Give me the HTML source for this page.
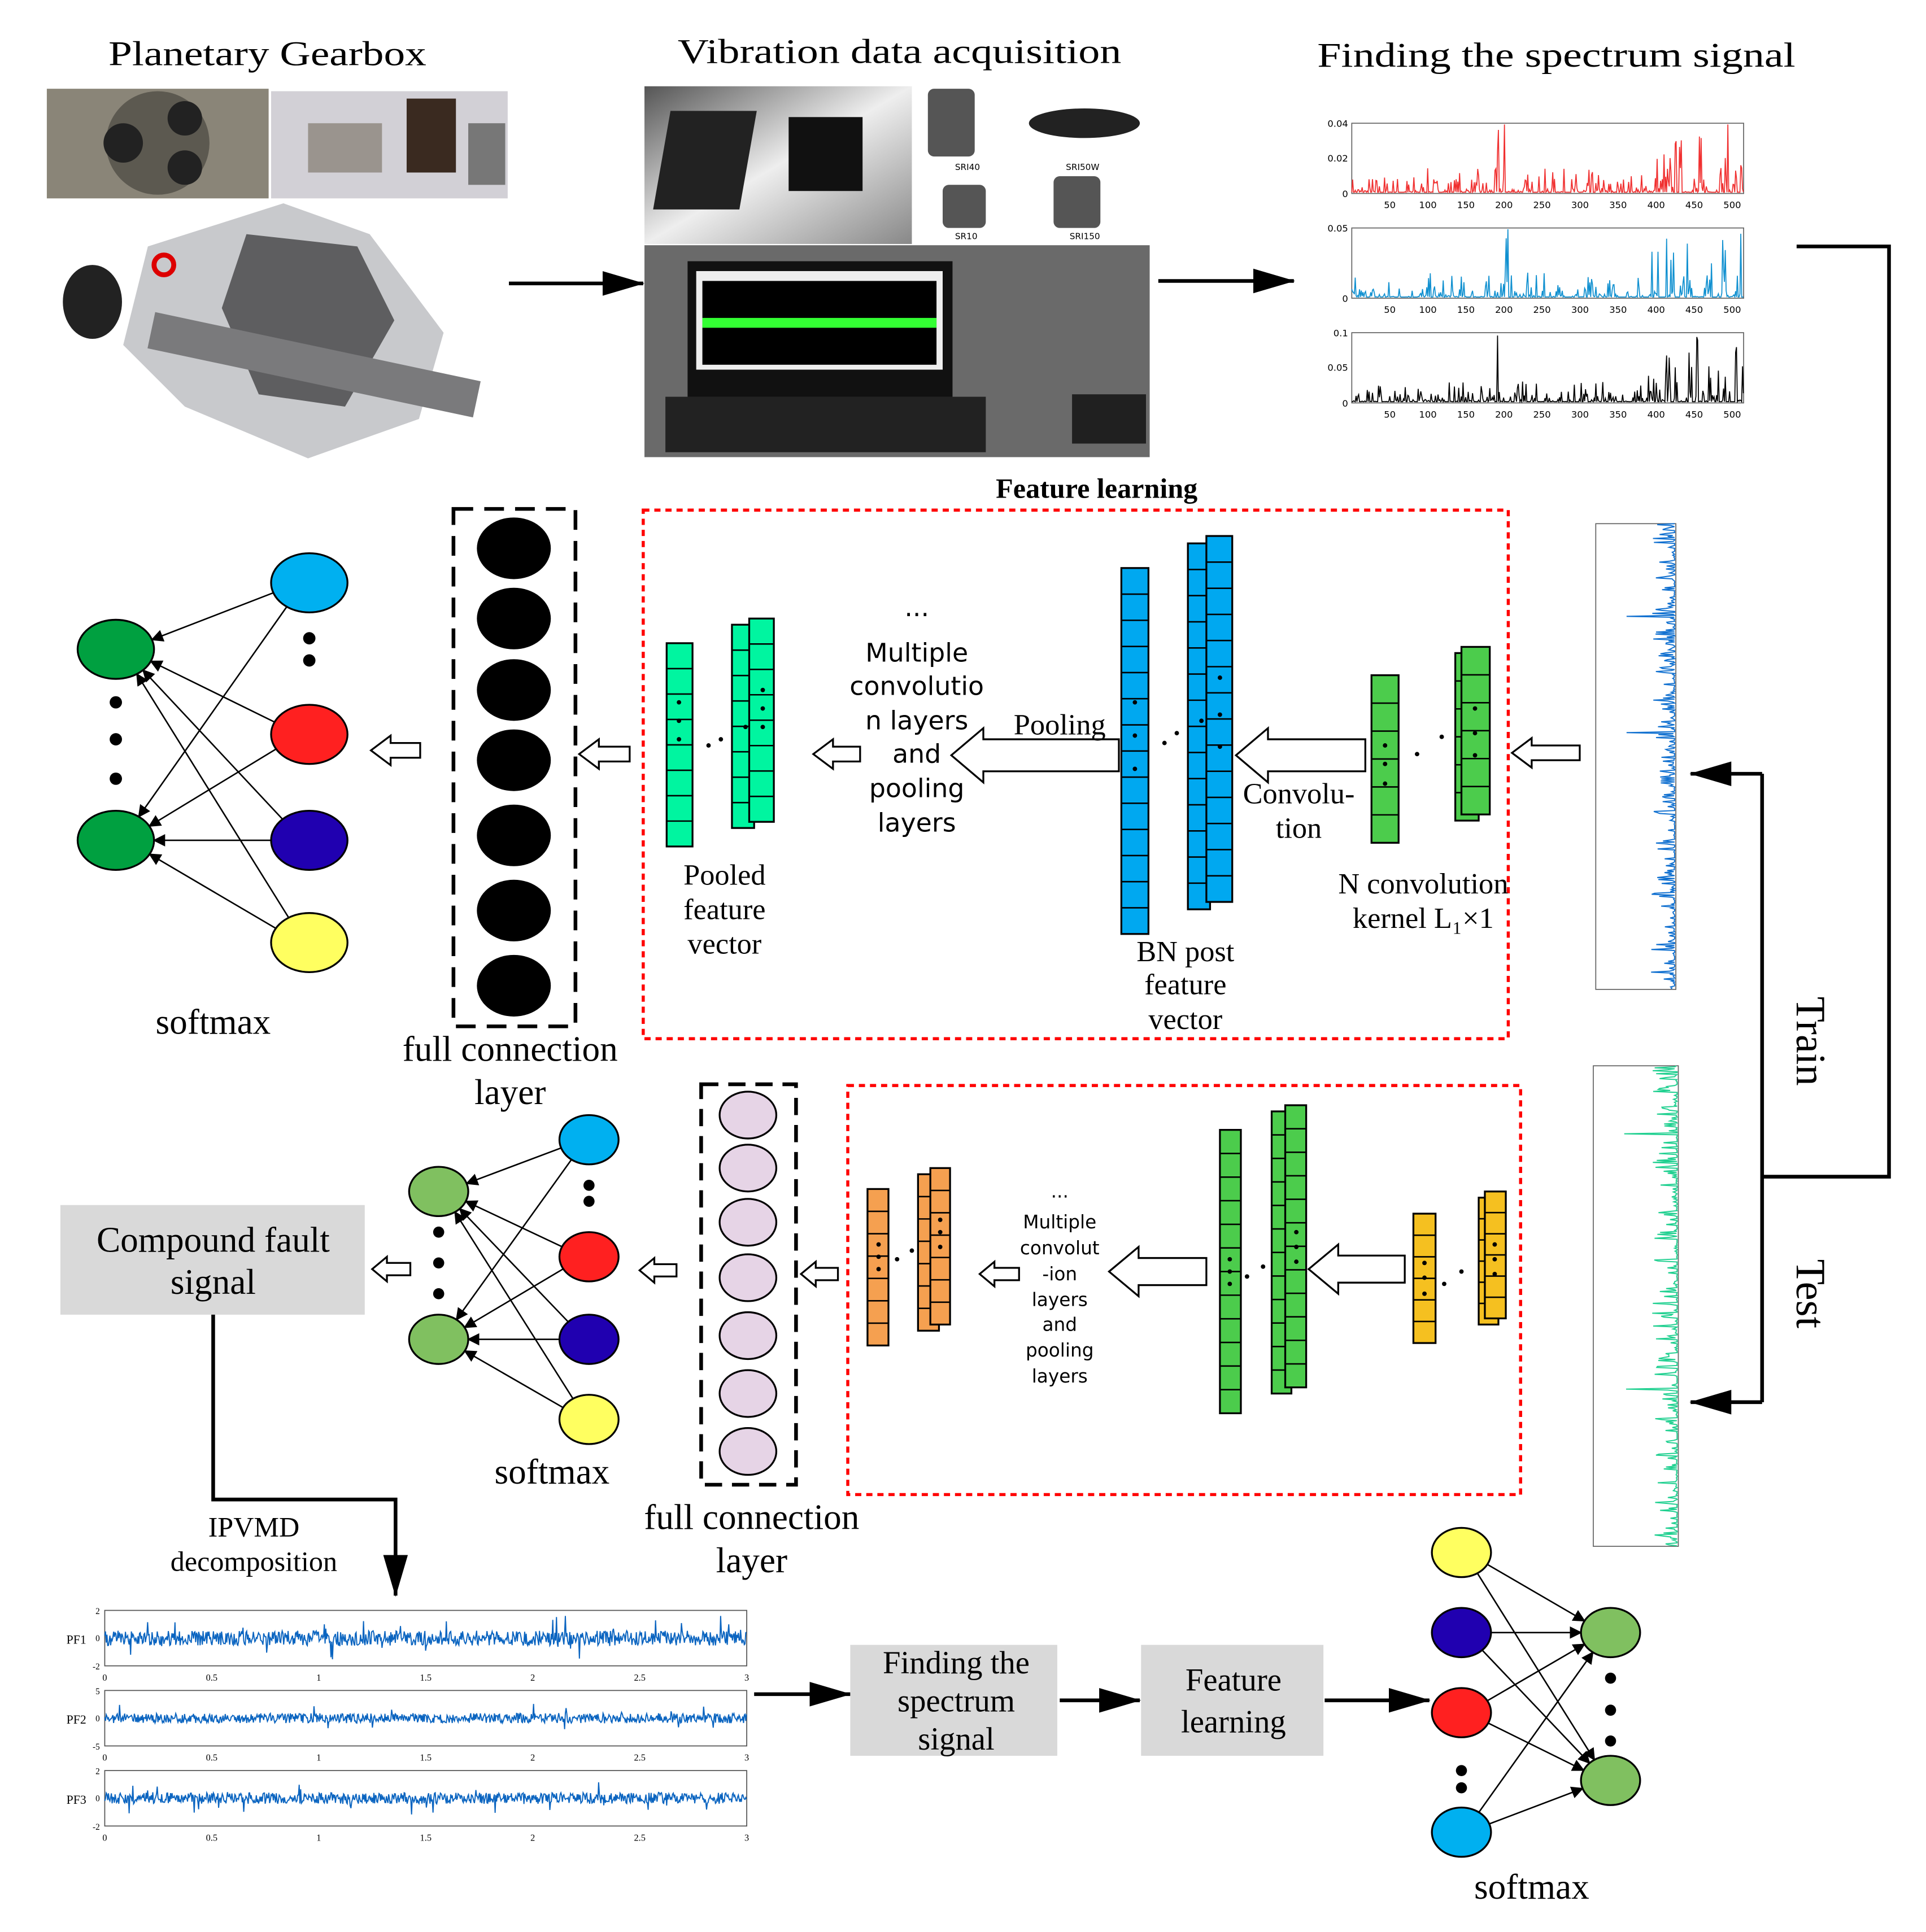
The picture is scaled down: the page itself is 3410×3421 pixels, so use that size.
<!DOCTYPE html>
<html><head><meta charset="utf-8"><style>
html,body{margin:0;padding:0;background:#fff;}
svg{display:block;}
text{font-family:"Liberation Serif",serif;fill:#000;}
.s{font-family:"DejaVu Sans","Liberation Sans",sans-serif;}
</style></head><body>
<svg id="g" width="3410" height="3421" viewBox="0 0 1563 1568" xmlns="http://www.w3.org/2000/svg">
<defs>
<marker id="ah" markerWidth="10" markerHeight="10" refX="9" refY="5" orient="auto" markerUnits="userSpaceOnUse"><path d="M0,0 L10,5 L0,10 z" fill="#000"/></marker>
<marker id="AH" markerWidth="34" markerHeight="24" refX="33" refY="12" orient="auto" markerUnits="userSpaceOnUse"><path d="M0,2 L34,12 L0,22 z" fill="#000"/></marker>
<linearGradient id="lg" x1="0" y1="0" x2="1" y2="1"><stop offset="0" stop-color="#555"/><stop offset="0.5" stop-color="#eee"/><stop offset="1" stop-color="#888"/></linearGradient>
</defs>
<text x="217" y="53" font-size="28" text-anchor="middle" textLength="258" lengthAdjust="spacingAndGlyphs">Planetary Gearbox</text>
<text x="730" y="51" font-size="28" text-anchor="middle" textLength="360" lengthAdjust="spacingAndGlyphs">Vibration data acquisition</text>
<text x="1263" y="54" font-size="28" text-anchor="middle" textLength="388" lengthAdjust="spacingAndGlyphs">Finding the spectrum signal</text>
<rect x="38" y="72" width="180" height="89" fill="#8a8578"/>
<circle cx="128" cy="116" r="42" fill="#5c5950"/><circle cx="100" cy="116" r="16" fill="#222"/><circle cx="150" cy="96" r="14" fill="#222"/><circle cx="150" cy="136" r="14" fill="#222"/>
<rect x="220" y="74" width="192" height="87" fill="#d2d0d6"/>
<rect x="330" y="80" width="40" height="60" fill="#3a2a20"/><rect x="250" y="100" width="60" height="40" fill="#9a948e"/><rect x="380" y="100" width="30" height="50" fill="#777"/>
<path d="M120,200 L230,165 L300,190 L360,270 L340,340 L250,372 L150,330 L100,280 Z" fill="#c8c9cc"/>
<path d="M200,190 L290,200 L320,260 L280,330 L210,320 L180,250 Z" fill="#5e5e60"/>
<rect x="120" y="280" width="270" height="30" fill="#7a7a7c" transform="rotate(12 250 295)"/>
<ellipse cx="75" cy="245" rx="24" ry="30" fill="#222"/>
<circle cx="133" cy="215" r="8" fill="none" stroke="#d00" stroke-width="4"/>
<rect x="523" y="70" width="217" height="128" fill="url(#lg)"/>
<rect x="560" y="90" width="70" height="80" fill="#222" transform="skewX(-10)"/><rect x="640" y="95" width="60" height="60" fill="#111"/>
<rect x="745" y="70" width="190" height="128" fill="#fff"/>
<rect x="753" y="72" width="38" height="55" rx="5" fill="#555"/><ellipse cx="880" cy="100" rx="45" ry="12" fill="#222"/>
<rect x="765" y="150" width="35" height="35" rx="5" fill="#555"/><rect x="855" y="143" width="38" height="42" rx="5" fill="#555"/>
<text x="775" y="138" font-size="7" class="s">SRI40</text><text x="865" y="138" font-size="7" class="s">SRI50W</text>
<text x="775" y="194" font-size="7" class="s">SR10</text><text x="868" y="194" font-size="7" class="s">SRI150</text>
<rect x="523" y="199" width="410" height="172" fill="#6a6a6a"/>
<rect x="558" y="212" width="215" height="110" fill="#111"/>
<rect x="565" y="220" width="200" height="80" fill="#eee"/>
<rect x="570" y="228" width="190" height="68" fill="#000"/>
<rect x="570" y="258" width="190" height="8" fill="#3f3"/>
<rect x="540" y="322" width="260" height="45" fill="#222"/>
<rect x="870" y="320" width="60" height="40" fill="#202020"/>
<line x1="413" y1="230" x2="522" y2="230" stroke="#000" stroke-width="3" marker-end="url(#AH)"/>
<line x1="940" y1="228" x2="1050" y2="228" stroke="#000" stroke-width="3" marker-end="url(#AH)"/>
<g id="spec"></g>
<polyline points="1458,200 1533,200 1533,955 1430,955" fill="none" stroke="#000" stroke-width="3"/>
<line x1="1430" y1="628" x2="1430" y2="1138" stroke="#000" stroke-width="3"/>
<line x1="1430" y1="628" x2="1372" y2="628" stroke="#000" stroke-width="3" marker-end="url(#AH)"/>
<line x1="1430" y1="1138" x2="1372" y2="1138" stroke="#000" stroke-width="3" marker-end="url(#AH)"/>
<text x="1458" y="845" font-size="34" transform="rotate(90 1458 845)" text-anchor="middle">Train</text>
<text x="1458" y="1050" font-size="34" transform="rotate(90 1458 1050)" text-anchor="middle">Test</text>
<text x="890" y="404" font-size="23" font-weight="bold" text-anchor="middle">Feature learning</text>
<rect x="522" y="414" width="702" height="429" fill="none" stroke="#f00" stroke-width="2.5" stroke-dasharray="5,4"/>
<rect x="688" y="881" width="546" height="332" fill="none" stroke="#f00" stroke-width="2.5" stroke-dasharray="5,4"/>
<g id="cols"></g>
<g class="s" font-size="21" text-anchor="middle">
<text x="744" y="500" class="s">...</text>
<text x="744" y="537" class="s">Multiple</text>
<text x="744" y="564" class="s">convolutio</text>
<text x="744" y="592" class="s">n layers</text>
<text x="744" y="619" class="s">and</text>
<text x="744" y="647" class="s">pooling</text>
<text x="744" y="675" class="s">layers</text>
</g>
<g font-size="24" text-anchor="middle">
<text x="860" y="596">Pooling</text>
<text x="1054" y="652">Convolu-</text>
<text x="1054" y="680">tion</text>
<text x="1155" y="725">N convolution</text>
<text x="1155" y="753">kernel L₁×1</text>
<text x="962" y="780">BN post</text>
<text x="962" y="807">feature</text>
<text x="962" y="835">vector</text>
<text x="588" y="718">Pooled</text>
<text x="588" y="746">feature</text>
<text x="588" y="774">vector</text>
</g>
<g class="s" font-size="15" text-anchor="middle">
<text x="860" y="972" class="s">...</text>
<text x="860" y="997" class="s">Multiple</text>
<text x="860" y="1018" class="s">convolut</text>
<text x="860" y="1039" class="s">-ion</text>
<text x="860" y="1060" class="s">layers</text>
<text x="860" y="1080" class="s">and</text>
<text x="860" y="1101" class="s">pooling</text>
<text x="860" y="1122" class="s">layers</text>
</g>
<rect x="368" y="413" width="99" height="420" fill="none" stroke="#000" stroke-width="3" stroke-dasharray="16,9"/>
<rect x="569" y="880" width="77" height="325" fill="none" stroke="#000" stroke-width="3" stroke-dasharray="14,8"/>
<g font-size="29" text-anchor="middle">
<text x="414" y="861">full connection</text>
<text x="414" y="896">layer</text>
<text x="173" y="839">softmax</text>
<text x="610" y="1241">full connection</text>
<text x="610" y="1276">layer</text>
<text x="448" y="1204">softmax</text>
<text x="1243" y="1541">softmax</text>
</g>
<rect x="49" y="978" width="247" height="89" fill="#d9d9d9"/>
<g font-size="29" text-anchor="middle">
<text x="173" y="1016">Compound fault</text>
<text x="173" y="1050">signal</text>
</g>
<polyline points="173,1067 173,1217 321,1217 321,1295" fill="none" stroke="#000" stroke-width="3" marker-end="url(#AH)"/>
<text x="206" y="1247" font-size="23" text-anchor="middle">IPVMD</text>
<text x="206" y="1275" font-size="23" text-anchor="middle">decomposition</text>
<g id="pf"></g>
<line x1="612" y1="1375" x2="690" y2="1375" stroke="#000" stroke-width="3" marker-end="url(#AH)"/>
<rect x="690" y="1335" width="168" height="90" fill="#d9d9d9"/>
<line x1="860" y1="1380" x2="925" y2="1380" stroke="#000" stroke-width="3" marker-end="url(#AH)"/>
<rect x="926" y="1335" width="148" height="90" fill="#d9d9d9"/>
<line x1="1075" y1="1380" x2="1160" y2="1380" stroke="#000" stroke-width="3" marker-end="url(#AH)"/>
<g font-size="26" text-anchor="middle">
<text x="776" y="1358">Finding the</text>
<text x="776" y="1389">spectrum</text>
<text x="776" y="1420">signal</text>
<text x="1001" y="1372">Feature</text>
<text x="1001" y="1406">learning</text>
</g>
<g id="nets"></g>
</svg>
<script>
var NS="http://www.w3.org/2000/svg";
function el(p,t,a){var e=document.createElementNS(NS,t);for(var k in a)e.setAttribute(k,a[k]);p.appendChild(e);return e;}
var cols=document.getElementById('cols');
function col(x,y,w,h,n,f){el(cols,'rect',{x:x,y:y,width:w,height:h,fill:f,stroke:'#000','stroke-width':1.5});for(var i=1;i<n;i++)el(cols,'line',{x1:x,x2:x+w,y1:y+h*i/n,y2:y+h*i/n,stroke:'#000','stroke-width':1.2});}
function dots(x,ys){ys.forEach(function(y){el(cols,'circle',{cx:x,cy:y,r:1.8,fill:'#000'});});}
var G='#00f5a0',B='#00a8f0',Gr='#4ccc4c',O='#f5a050',Y='#f5c020';
col(541,522,21,165,8,G);col(594,507,18,165,8,G);col(608,502,20,165,8,G);dots(551,[570,585,600]);dots(619,[560,575,590]);dots(605,[590]);dots(585,[600]);dots(575,[605]);
col(910,461,22,297,14,B);col(964,441,18,297,14,B);col(979,435,21,297,14,B);dots(921,[570,597,624]);dots(990,[550,580,606]);dots(975,[585]);dots(955,[595]);dots(945,[603]);
col(1113,548,22,136,6,Gr);col(1181,530,19,136,6,Gr);col(1186,525,23,136,6,Gr);dots(1124,[605,620,636]);dots(1197,[575,595,613]);dots(1170,[598]);dots(1150,[612]);
col(704,965,17,127,7,O);col(745,953,17,127,7,O);col(755,948,16,127,7,O);dots(713,[1010,1020,1030]);dots(763,[990,1000,1012]);dots(740,[1015]);dots(728,[1022]);
col(990,917,17,230,12,Gr);col(1032,902,16,229,12,Gr);col(1043,897,17,229,12,Gr);dots(998,[1022,1032,1042]);dots(1052,[1000,1012,1024]);dots(1025,[1028]);dots(1012,[1036]);
col(1147,985,18,105,6,Y);col(1200,972,16,103,6,Y);col(1205,967,17,103,6,Y);dots(1156,[1025,1037,1050]);dots(1213,[1010,1022,1034]);dots(1186,[1032]);dots(1172,[1042]);
function ha(x1,x2,y,bh,hh,hl){var s=x2<x1?-1:1;var hx=x2-s*hl;var d='M'+x1+','+(y-bh/2)+' L'+hx+','+(y-bh/2)+' L'+hx+','+(y-hh/2)+' L'+x2+','+y+' L'+hx+','+(y+hh/2)+' L'+hx+','+(y+bh/2)+' L'+x1+','+(y+bh/2)+' Z';el(cols,'path',{d:d,fill:'#fff',stroke:'#000','stroke-width':1.5});}
ha(1108,1003,613,26,44,26);ha(908,772,613,26,44,26);ha(1282,1227,611,12,24,16);ha(698,660,612,12,24,16);ha(511,470,612,12,24,16);ha(341,301,609,12,24,16);
ha(1140,1062,1030,22,40,24);ha(979,900,1032,22,40,24);ha(827,795,1034,10,20,12);ha(680,650,1034,10,20,12);ha(549,519,1031,10,20,12);ha(333,302,1030,10,20,12);
[445,502,560,617,678,739,800].forEach(function(y){el(cols,'ellipse',{cx:417,cy:y,rx:30,ry:25,fill:'#000'});});
[905,948,992,1037,1084,1131,1178].forEach(function(y){el(cols,'ellipse',{cx:607,cy:y,rx:23,ry:19,fill:'#e6d4e6',stroke:'#000','stroke-width':1.5});});
var nets=document.getElementById('nets');
function net(L,R,rx,ry,dir,cl,cr){
 R.forEach(function(r){L.forEach(function(l){var dx=l[0]-r[0],dy=l[1]-r[1],len=Math.sqrt(dx*dx+dy*dy);var ux=dx/len,uy=dy/len;
 el(nets,'line',{x1:r[0]+ux*rx*0.9,y1:r[1]+uy*ry*0.9,x2:l[0]-ux*rx,y2:l[1]-uy*ry,stroke:'#000','stroke-width':1.2,'marker-end':'url(#ah)'});});});
 L.forEach(function(p,i){el(nets,'ellipse',{cx:p[0],cy:p[1],rx:rx,ry:ry,fill:cl[i],stroke:'#000','stroke-width':1.5});});
 R.forEach(function(p,i){el(nets,'ellipse',{cx:p[0],cy:p[1],rx:rx,ry:ry,fill:cr[i],stroke:'#000','stroke-width':1.5});});}
net([[94,527],[94,682]],[[251,473],[251,596],[251,682],[251,765]],31,24,1,['#00a040','#00a040'],['#00b0f0','#ff2020','#2000b0','#ffff60']);
net([[356,967],[356,1087]],[[478,925],[478,1020],[478,1087],[478,1152]],24,20,1,['#80c060','#80c060'],['#00b0f0','#ff2020','#2000b0','#ffff60']);
net([[1307,1325],[1307,1445]],[[1186,1260],[1186,1325],[1186,1390],[1186,1487]],24,20,1,['#80c060','#80c060'],['#ffff60','#2000b0','#ff2020','#00b0f0']);
function bd(x,ys,r){ys.forEach(function(y){el(nets,'circle',{cx:x,cy:y,r:r,fill:'#000'});});}
bd(94,[570,600,632],5);bd(251,[518,536],5);bd(356,[1000,1025,1050],4.5);bd(478,[962,975],4.5);bd(1307,[1362,1388,1413],4.5);bd(1186,[1437,1451],4.5);
var seed=7;function rnd(){seed=(seed*16807)%2147483647;return seed/2147483647;}
var sp=document.getElementById('spec');
function hplot(p,x,y,w,h,col,amp,yl){el(p,'rect',{x:x,y:y,width:w,height:h,fill:'#fff',stroke:'#666','stroke-width':0.8});
 var pts=[];for(var i=0;i<=w;i+=0.7){var v=rnd();v=Math.pow(v,8)*amp*(0.5+(i>w*0.37&&i<w*0.4?2:0)+(i>w*0.75?1:0));pts.push((x+i).toFixed(1)+','+(y+h-1-Math.min(v,h-2)).toFixed(1));}
 el(p,'polyline',{points:pts.join(' '),fill:'none',stroke:col,'stroke-width':0.8});
 for(var k=1;k<=10;k++){var tx=x+k*w/10.3;var t=el(p,'text',{x:tx,y:y+h+12,'font-size':7.5,'text-anchor':'middle',class:'s'});t.textContent=k*50;}
 yl.forEach(function(a){var t=el(p,'text',{x:x-3,y:y+a[1]+3,'font-size':7.5,'text-anchor':'end',class:'s'});t.textContent=a[0];});}
hplot(sp,1097,100,318,57,'#f03030',40,[['0.04',0],['0.02',28],['0',57]]);
hplot(sp,1097,185,318,57,'#1090d0',40,[['0.05',0],['0',57]]);
hplot(sp,1097,270,318,57,'#000',35,[['0.1',0],['0.05',28],['0',57]]);
function vplot(x,y,w,h,col){el(sp,'rect',{x:x,y:y,width:w,height:h,fill:'#fff',stroke:'#666','stroke-width':0.8});
 var pts=[];for(var j=0;j<=h;j+=0.8){var v=rnd();v=Math.pow(v,6)*(w*0.3)+(rnd()<0.006?w*0.6:0);pts.push((x+w-Math.min(v,w-2)-1).toFixed(1)+','+(y+j).toFixed(1));}
 el(sp,'polyline',{points:pts.join(' '),fill:'none',stroke:col,'stroke-width':0.9});}
vplot(1295,425,65,378,'#1070d0');vplot(1293,865,69,390,'#20d090');
var pf=document.getElementById('pf');
[[1307,'PF1',12,['2','0','-2']],[1372,'PF2',8,['5','0','-5']],[1437,'PF3',9,['2','0','-2']]].forEach(function(a){var y=a[0];el(pf,'rect',{x:85,y:y,width:521,height:45,fill:'#fff',stroke:'#555','stroke-width':0.8});
 var pts=[];for(var i=0;i<=521;i+=0.6){var v=(rnd()-0.5)*a[2]*(rnd()<0.05?3:1);pts.push((85+i).toFixed(1)+','+(y+22.5+v).toFixed(1));}
 el(pf,'polyline',{points:pts.join(' '),fill:'none',stroke:'#0a64c0','stroke-width':0.9});
 var t=el(pf,'text',{x:62,y:y+27,'font-size':10,'text-anchor':'middle'});t.textContent=a[1];
 [0,22,45].forEach(function(o,k){var t=el(pf,'text',{x:81,y:y+o+3,'font-size':7,'text-anchor':'end'});t.textContent=a[3][k];});
 ['0','0.5','1','1.5','2','2.5','3'].forEach(function(s,k){var t=el(pf,'text',{x:85+k*521/6,y:y+57,'font-size':7.5,'text-anchor':'middle'});t.textContent=s;});});
</script>
</body></html>
